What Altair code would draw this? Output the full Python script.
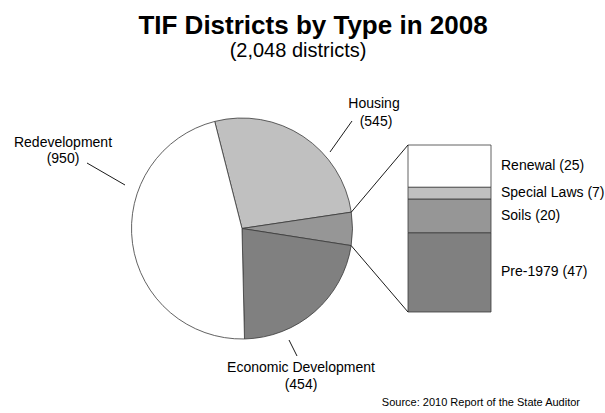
import math
import altair as alt
import pandas as pd

# ---- data ----
pie_names = ["Housing", "Other", "Economic Development", "Redevelopment"]
pie_values = [545, 99, 454, 950]
pie_colors = ["#c0c0c0", "#969696", "#808080", "#ffffff"]

sub_names = ["Pre-1979", "Soils", "Special Laws", "Renewal"]
sub_values = [47, 20, 7, 25]
sub_colors = ["#808080", "#969696", "#c0c0c0", "#ffffff"]

title_text = "TIF Districts by Type in 2008"
subtitle_text = "(2,048 districts)"
source_text = "Source:  2010 Report of the State Auditor"

# ---- layout ----
W, H = 605, 413
CX, CY, R = 242, 228.5, 110.5
START = math.radians(-14.3)
BAR_X0, BAR_X1, BAR_TOP, BAR_BOT = 408, 491, 145, 312
FONT = "Liberation Sans"
STROKE = "#3a3a3a"

total = sum(pie_values)
sub_total = sum(sub_values)

pie_df = pd.DataFrame({"name": pie_names, "value": pie_values, "ord": range(len(pie_names))})
sub_df = pd.DataFrame({"name": sub_names, "value": sub_values, "ord": range(len(sub_names))})
sub_df["lab"] = [f"{n} ({v})" for n, v in zip(sub_names, sub_values)]

color_scale = alt.Scale(domain=pie_names + sub_names, range=pie_colors + sub_colors)

pie = alt.Chart(pie_df).mark_arc(radius=R, stroke=STROKE, strokeWidth=0.8).encode(
    theta=alt.Theta("value:Q", stack=True, scale=alt.Scale(range=[START, START + 2 * math.pi])),
    order=alt.Order("ord:Q"),
    color=alt.Color("name:N", scale=color_scale, legend=None),
    x=alt.value(CX),
    y=alt.value(CY),
)

yscale = alt.Scale(domain=[0, sub_total], range=[BAR_BOT, BAR_TOP], zero=True, nice=False)

stacked = alt.Chart(sub_df).transform_stack(
    stack="value", groupby=[], as_=["v0", "v1"], sort=[alt.SortField("ord")]
).transform_calculate(mid="(datum.v0 + datum.v1) / 2")

bar = stacked.mark_rect(stroke=STROKE, strokeWidth=0.8).encode(
    x=alt.value(BAR_X0),
    x2=alt.value(BAR_X1),
    y=alt.Y("v0:Q", scale=yscale, axis=None),
    y2="v1:Q",
    color=alt.Color("name:N", scale=color_scale, legend=None),
)

bar_labels = stacked.mark_text(
    align="left", baseline="middle", font=FONT, fontSize=14, color="#000"
).encode(
    x=alt.value(BAR_X1 + 10),
    y=alt.Y("mid:Q", scale=yscale, axis=None),
    text="lab:N",
)

# connector lines from the "Other" slice edges to the bar corners
a1 = START + pie_values[0] / total * 2 * math.pi
a2 = START + (pie_values[0] + pie_values[1]) / total * 2 * math.pi
conn_df = pd.DataFrame({
    "x": [CX + R * math.sin(a1), CX + R * math.sin(a2)],
    "y": [CY - R * math.cos(a1), CY - R * math.cos(a2)],
    "x2": [BAR_X0, BAR_X0],
    "y2": [BAR_TOP, BAR_BOT],
})

leader_df = pd.DataFrame({
    "x": [330, 125, 289],
    "y": [152, 185, 340],
    "x2": [352, 87, 297],
    "y2": [121, 163, 356],
})

lines_df = pd.concat([conn_df, leader_df], ignore_index=True)
lines = alt.Chart(lines_df).mark_rule(color="#000", strokeWidth=0.9).encode(
    x=alt.X("x:Q", scale=None, axis=None),
    y=alt.Y("y:Q", scale=None, axis=None),
    x2="x2:Q",
    y2="y2:Q",
)

label_df = pd.DataFrame({
    "t": ["Housing", f"({pie_values[0]})",
          "Redevelopment", f"({pie_values[3]})",
          "Economic Development", f"({pie_values[2]})"],
    "x": [374, 376, 63, 63, 301, 301],
    "y": [104, 122, 143, 159, 368, 385],
})
labels = alt.Chart(label_df).mark_text(
    align="center", baseline="middle", font=FONT, fontSize=14, color="#000"
).encode(
    x=alt.X("x:Q", scale=None, axis=None),
    y=alt.Y("y:Q", scale=None, axis=None),
    text="t:N",
)

title = alt.Chart(pd.DataFrame({"t": [title_text]})).mark_text(
    align="center", baseline="middle", font=FONT, fontSize=26, fontWeight="bold", color="#000"
).encode(x=alt.value(313), y=alt.value(26), text="t:N")

subtitle = alt.Chart(pd.DataFrame({"t": [subtitle_text]})).mark_text(
    align="center", baseline="middle", font=FONT, fontSize=20, color="#000"
).encode(x=alt.value(298), y=alt.value(51), text="t:N")

source = alt.Chart(pd.DataFrame({"t": [source_text]})).mark_text(
    align="right", baseline="middle", font=FONT, fontSize=11, color="#000"
).encode(x=alt.value(580), y=alt.value(403), text="t:N")

chart = alt.layer(pie, bar, bar_labels, lines, labels, title, subtitle, source).resolve_scale(
    x="independent", y="independent"
).properties(
    width=W, height=H, padding=0, autosize=alt.AutoSizeParams(type="none"), background="#ffffff"
).configure_view(stroke=None)

chart.save("out.html", embed_options={"renderer": "svg", "actions": False})
